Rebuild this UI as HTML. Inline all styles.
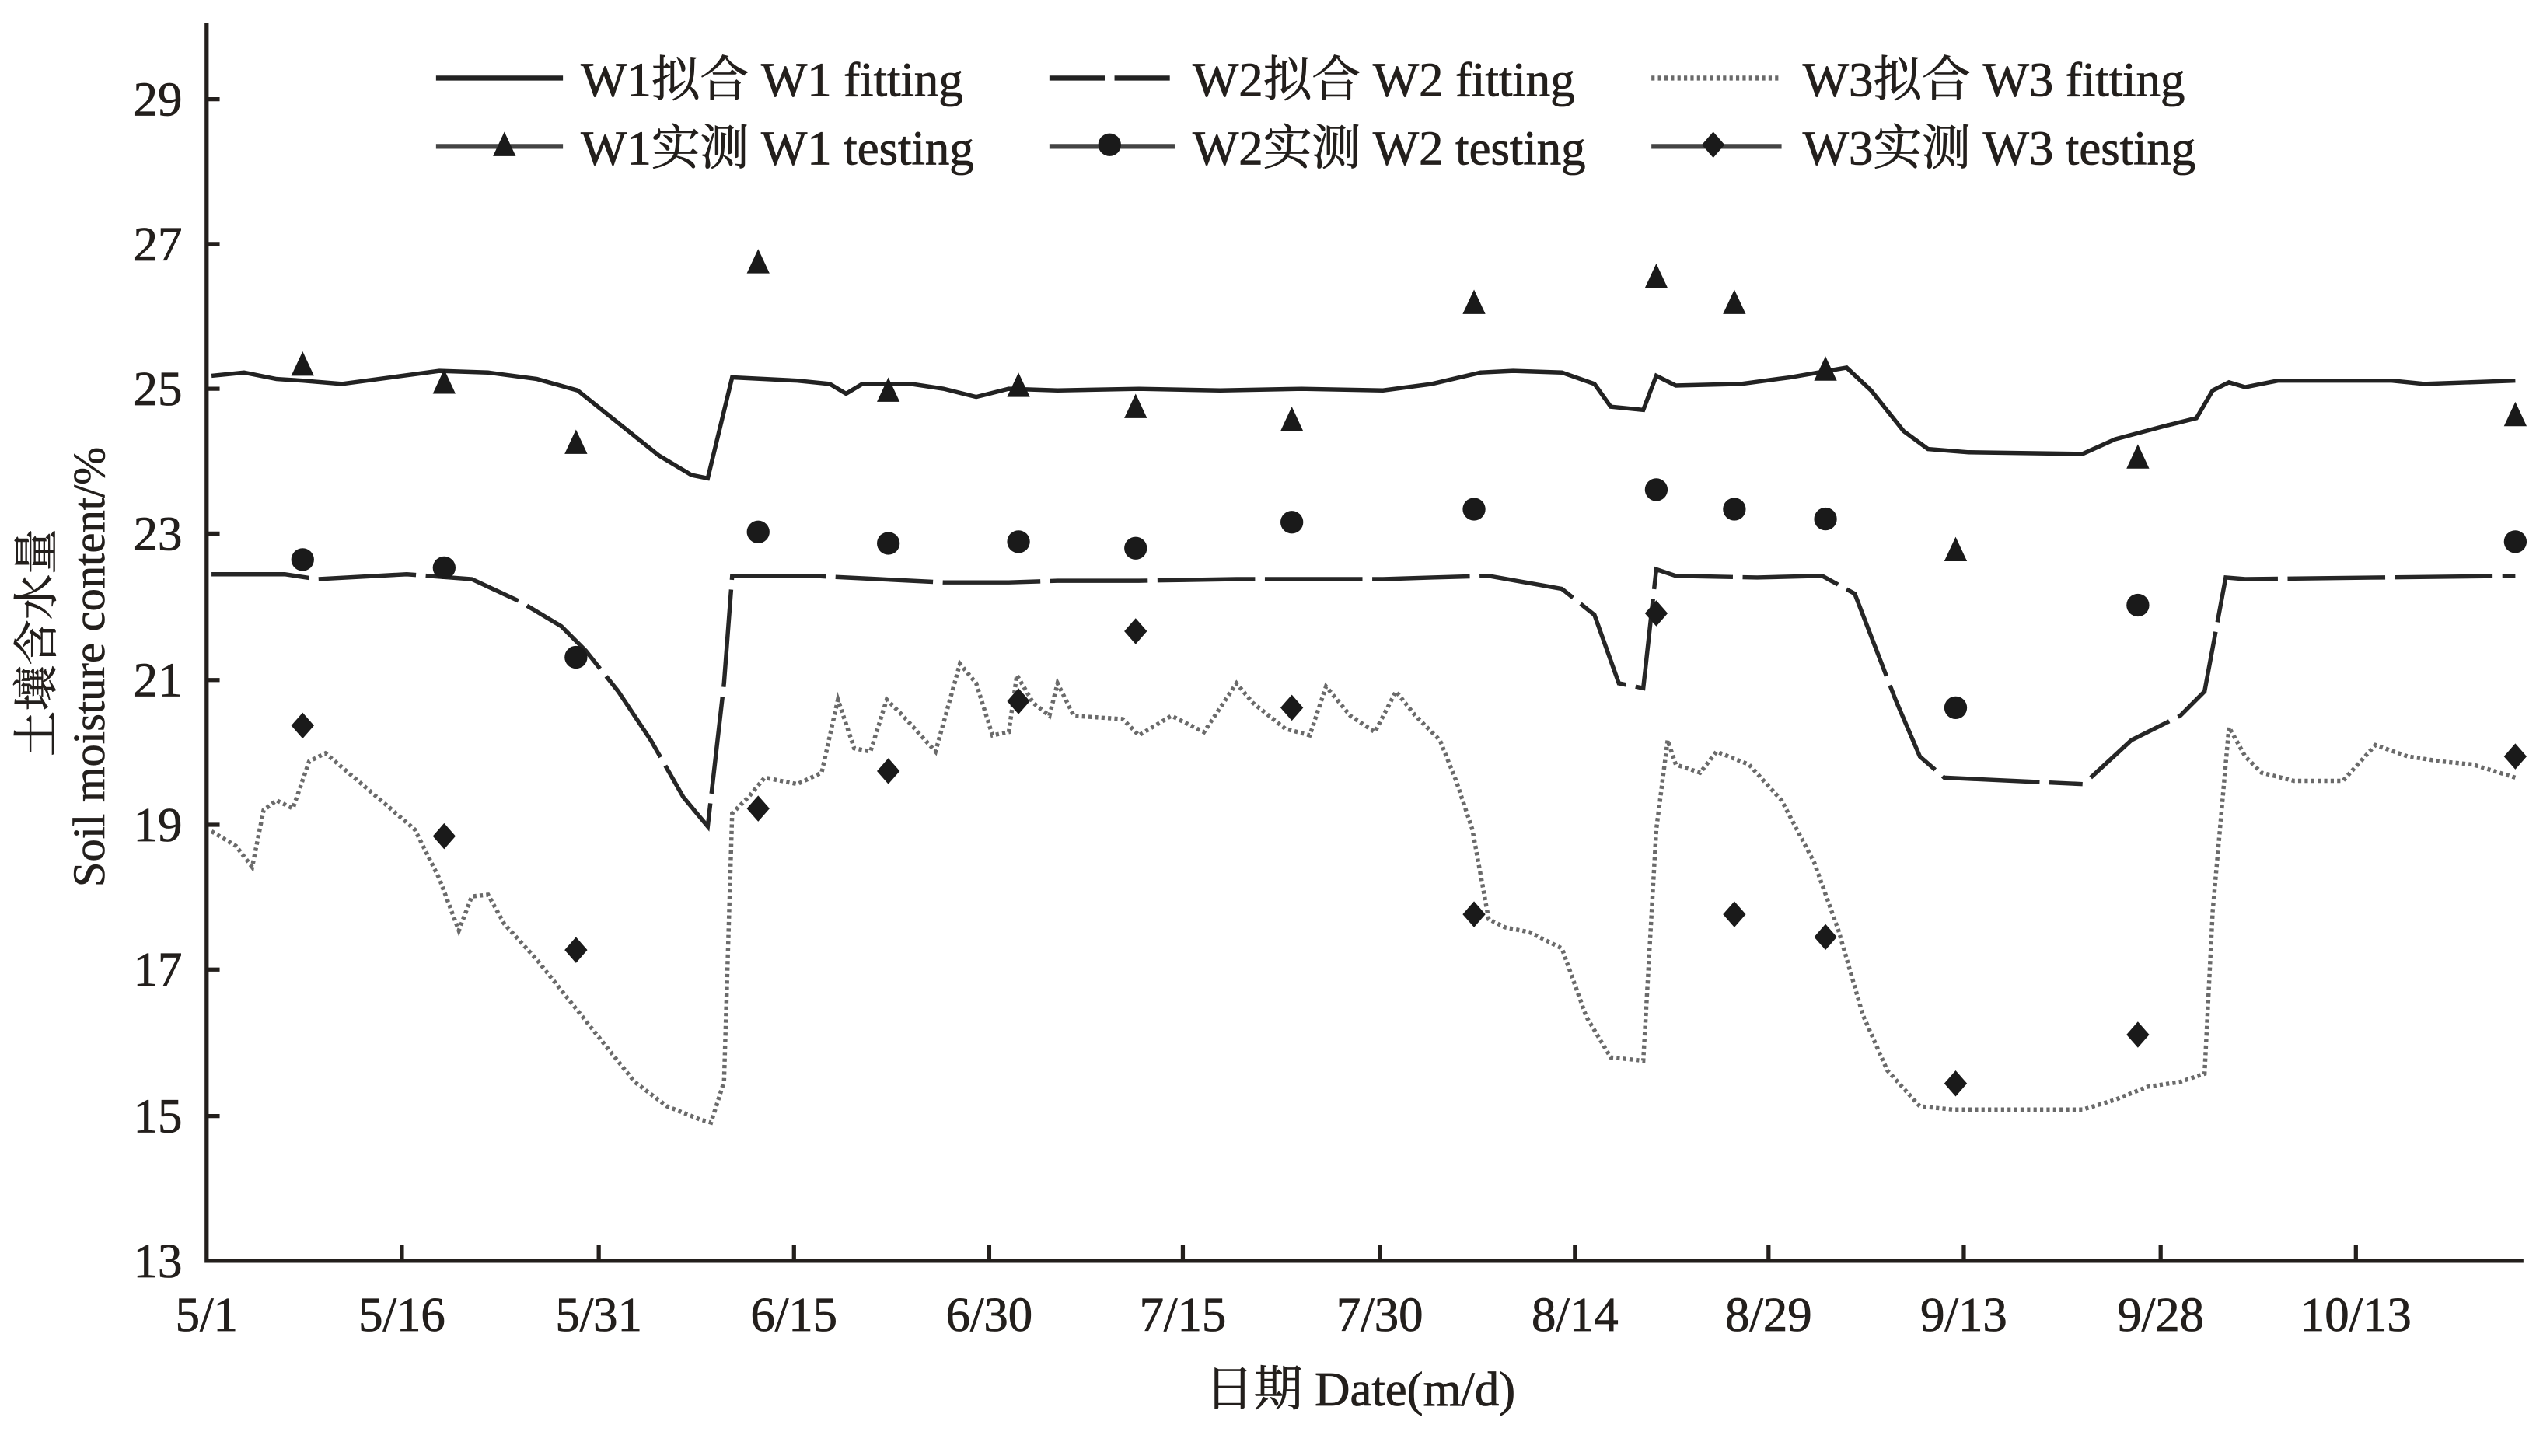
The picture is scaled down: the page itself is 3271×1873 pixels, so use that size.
<!DOCTYPE html>
<html><head><meta charset="utf-8"><style>html,body{margin:0;padding:0;background:#fff}svg{display:block}</style></head>
<body>
<svg width="3271" height="1873" viewBox="0 0 1563 895" xmlns="http://www.w3.org/2000/svg" font-family="'Liberation Serif','Noto Serif CJK SC',serif" fill="#231f1c">
<g stroke="#231f1c" stroke-width="2.5" fill="none">
<path d="M127 14 V775 H1551"/>
<path d="M127 61h8M127 150h8M127 239h8M127 328h8M127 418h8M127 507h8M127 596h8M127 686h8"/>
<path d="M247 775v-10M368 775v-10M488 775v-10M608 775v-10M727 775v-10M848 775v-10M968 775v-10M1087 775v-10M1207 775v-10M1328 775v-10M1448 775v-10"/>
</g>
<g font-size="30" text-anchor="end" stroke="#231f1c" stroke-width="0.4">
<text x="112" y="71">29</text><text x="112" y="160">27</text><text x="112" y="249">25</text><text x="112" y="338">23</text><text x="112" y="428">21</text><text x="112" y="517">19</text><text x="112" y="606">17</text><text x="112" y="696">15</text><text x="112" y="785">13</text>
</g>
<g font-size="30" text-anchor="middle" stroke="#231f1c" stroke-width="0.4">
<text x="127" y="818">5/1</text><text x="247" y="818">5/16</text><text x="368" y="818">5/31</text><text x="488" y="818">6/15</text><text x="608" y="818">6/30</text><text x="727" y="818">7/15</text><text x="848" y="818">7/30</text><text x="968" y="818">8/14</text><text x="1087" y="818">8/29</text><text x="1207" y="818">9/13</text><text x="1328" y="818">9/28</text><text x="1448" y="818">10/13</text>
<text x="836" y="864">日期 Date(m/d)</text>
</g>
<g font-size="28" text-anchor="middle" stroke="#231f1c" stroke-width="0.3">
<text transform="translate(32,395) rotate(-90)">土壤含水量</text>
<text transform="translate(64,410) rotate(-90)">Soil moisture content/%</text>
</g>
<polyline fill="none" stroke="#222" stroke-width="2.6" points="130,231 150,229 170,233 186,234 210,236 240,232 270,228 300,229 330,233 355,240 380,260 405,280 425,292 435,294 450,232 490,234 510,236 520,242 530,236 560,236 580,239 600,244 620,239 650,240 700,239 750,240 800,239 850,240 880,236 910,229 930,228 960,229 980,236 990,250 1010,252 1018,231 1030,237 1070,236 1100,232 1135,226 1150,240 1170,265 1185,276 1210,278 1280,279 1300,270 1330,262 1350,257 1360,240 1370,235 1380,238 1400,234 1470,234 1490,236 1546,234"/>
<polyline fill="none" stroke="#262626" stroke-width="2.6" stroke-dasharray="60 6" points="130,353 175,353 195,356 250,353 290,356 320,370 345,385 360,400 380,425 400,455 420,490 435,508 445,420 450,354 500,354 540,356 580,358 620,358 650,357 700,357 760,356 800,356 850,356 880,355 915,354 960,362 980,378 995,420 1010,423 1018,350 1030,354 1080,355 1120,354 1140,365 1165,430 1180,465 1195,478 1280,482"/>
<polyline fill="none" stroke="#262626" stroke-width="2.6" stroke-dasharray="60 6" points="1285,478 1310,455 1340,440 1355,425 1368,355 1380,356 1546,354"/>
<polyline fill="none" stroke="#6a6a6a" stroke-width="2.6" stroke-dasharray="2 2" points="130,511 145,520 155,533 162,498 170,492 180,497 190,468 200,463 220,480 240,497 255,510 270,540 282,572 290,551 300,550 310,568 330,590 350,615 370,640 390,665 410,680 430,688 437,690 445,665 450,500 460,490 470,478 490,482 505,475 515,430 525,460 535,462 545,430 555,440 575,462 590,408 600,420 610,452 620,450 625,415 635,432 645,440 650,420 660,440 690,442 700,452 720,440 740,450 760,420 770,432 790,448 805,452 815,422 830,440 845,450 858,425 870,440 885,455 895,480 905,510 915,565 925,570 940,573 960,583 975,625 990,650 1010,652 1018,510 1025,455 1030,470 1045,475 1055,462 1075,470 1095,492 1115,530 1130,572 1145,624 1160,658 1180,680 1200,682 1280,682 1300,676 1320,668 1340,665 1355,660 1360,560 1370,447 1380,465 1390,475 1410,480 1440,480 1460,458 1480,465 1500,468 1520,470 1546,478"/>
<g fill="#1a1a1a">
<path d="M0 -9 L7 6 L-7 6Z" transform="translate(186,225)"/>
<path d="M0 -9 L7 6 L-7 6Z" transform="translate(273,236)"/><path d="M0 -9 L7 6 L-7 6Z" transform="translate(354,273)"/><path d="M0 -9 L7 6 L-7 6Z" transform="translate(466,162)"/><path d="M0 -9 L7 6 L-7 6Z" transform="translate(546,241)"/><path d="M0 -9 L7 6 L-7 6Z" transform="translate(626,238)"/><path d="M0 -9 L7 6 L-7 6Z" transform="translate(698,251)"/><path d="M0 -9 L7 6 L-7 6Z" transform="translate(794,259)"/><path d="M0 -9 L7 6 L-7 6Z" transform="translate(906,187)"/><path d="M0 -9 L7 6 L-7 6Z" transform="translate(1018,171)"/><path d="M0 -9 L7 6 L-7 6Z" transform="translate(1066,187)"/><path d="M0 -9 L7 6 L-7 6Z" transform="translate(1122,228)"/><path d="M0 -9 L7 6 L-7 6Z" transform="translate(1202,339)"/><path d="M0 -9 L7 6 L-7 6Z" transform="translate(1314,282)"/><path d="M0 -9 L7 6 L-7 6Z" transform="translate(1546,256)"/>
<circle cx="186" cy="344" r="7"/><circle cx="273" cy="349" r="7"/><circle cx="354" cy="404" r="7"/><circle cx="466" cy="327" r="7"/><circle cx="546" cy="334" r="7"/><circle cx="626" cy="333" r="7"/><circle cx="698" cy="337" r="7"/><circle cx="794" cy="321" r="7"/><circle cx="906" cy="313" r="7"/><circle cx="1018" cy="301" r="7"/><circle cx="1066" cy="313" r="7"/><circle cx="1122" cy="319" r="7"/><circle cx="1202" cy="435" r="7"/><circle cx="1314" cy="372" r="7"/><circle cx="1546" cy="333" r="7"/>
<g transform="translate(186,446)"><path d="M0 -8 L7 0 L0 8 L-7 0Z"/></g><g transform="translate(273,514)"><path d="M0 -8 L7 0 L0 8 L-7 0Z"/></g><g transform="translate(354,584)"><path d="M0 -8 L7 0 L0 8 L-7 0Z"/></g><g transform="translate(466,497)"><path d="M0 -8 L7 0 L0 8 L-7 0Z"/></g><g transform="translate(546,474)"><path d="M0 -8 L7 0 L0 8 L-7 0Z"/></g><g transform="translate(626,431)"><path d="M0 -8 L7 0 L0 8 L-7 0Z"/></g><g transform="translate(698,388)"><path d="M0 -8 L7 0 L0 8 L-7 0Z"/></g><g transform="translate(794,435)"><path d="M0 -8 L7 0 L0 8 L-7 0Z"/></g><g transform="translate(906,562)"><path d="M0 -8 L7 0 L0 8 L-7 0Z"/></g><g transform="translate(1018,377)"><path d="M0 -8 L7 0 L0 8 L-7 0Z"/></g><g transform="translate(1066,562)"><path d="M0 -8 L7 0 L0 8 L-7 0Z"/></g><g transform="translate(1122,576)"><path d="M0 -8 L7 0 L0 8 L-7 0Z"/></g><g transform="translate(1202,666)"><path d="M0 -8 L7 0 L0 8 L-7 0Z"/></g><g transform="translate(1314,636)"><path d="M0 -8 L7 0 L0 8 L-7 0Z"/></g><g transform="translate(1546,465)"><path d="M0 -8 L7 0 L0 8 L-7 0Z"/></g>
</g>
<g stroke-width="3" fill="none">
<path d="M268 48 H346" stroke="#222"/>
<path d="M645 48 H722" stroke="#222" stroke-dasharray="34 6"/>
<path d="M1015 48 H1095" stroke="#6a6a6a" stroke-dasharray="2 2"/>
<path d="M268 90 H346" stroke="#444"/>
<path d="M645 90 H722" stroke="#444"/>
<path d="M1015 90 H1095" stroke="#444"/>
</g>
<g fill="#1a1a1a">
<path d="M310 81 L317 96 L303 96Z"/>
<circle cx="682" cy="89" r="7"/>
<path d="M1053 81 L1060 89 L1053 97 L1046 89Z"/>
</g>
<g font-size="30" stroke="#231f1c" stroke-width="0.4">
<text x="357" y="59">W1拟合 W1 fitting</text>
<text x="733" y="59">W2拟合 W2 fitting</text>
<text x="1108" y="59">W3拟合 W3 fitting</text>
<text x="357" y="101">W1实测 W1 testing</text>
<text x="733" y="101">W2实测 W2 testing</text>
<text x="1108" y="101">W3实测 W3 testing</text>
</g>
</svg>
</body></html>
